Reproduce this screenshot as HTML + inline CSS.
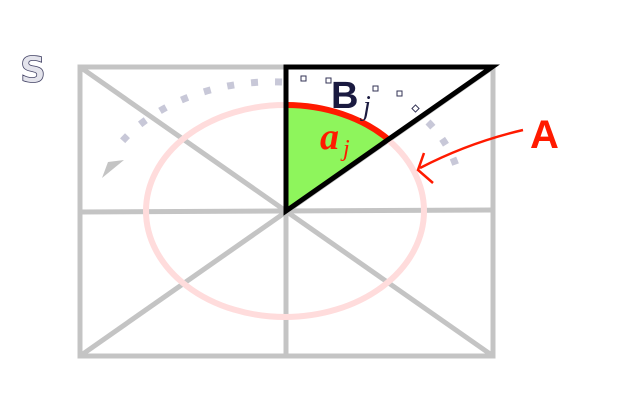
<!DOCTYPE html>
<html><head><meta charset="utf-8"><style>html,body{margin:0;padding:0;background:#fff;}svg{display:block;}</style></head>
<body>
<svg width="640" height="400" viewBox="0 0 640 400">
  <g stroke="#c4c4c4" stroke-width="5" fill="none">
    <rect x="80" y="67" width="413" height="289"/>
    <line x1="80" y1="212" x2="493" y2="210"/>
    <line x1="286" y1="67" x2="286" y2="356"/>
    <line x1="80" y1="67" x2="493" y2="356"/>
    <line x1="80" y1="356" x2="493" y2="67"/>
  </g>
  <ellipse cx="285" cy="211" rx="139" ry="106" fill="none" stroke="#ffdcdc" stroke-width="6"/>
  <path d="M 282 82 A 180 131 0 0 0 115 150" fill="none" stroke="#c8c8d8" stroke-width="7" stroke-dasharray="7 17"/>
  <path d="M 428 122 A 180 131 0 0 1 458 172" fill="none" stroke="#c8c8d8" stroke-width="7" stroke-dasharray="7 15"/>
  <polygon points="102,178 124,160 108,162" fill="#c4c4c4"/>
  <path d="M 286 211 L 286 105 A 139 106 0 0 1 388.6 139.5 Z" fill="#8ef55c"/>
  <path d="M 286 105 A 139 106 0 0 1 388.6 139.5" fill="none" stroke="#ff1a00" stroke-width="6"/>
  <polygon points="286,67 492,67 286,211" fill="none" stroke="#000" stroke-width="5" stroke-linejoin="miter"/>
  <g fill="#fff" stroke="#333355" stroke-width="1">
    <rect x="301" y="76" width="5" height="5"/><rect x="326" y="78" width="5" height="5"/>
    <rect x="373" y="86" width="5" height="5"/><rect x="397" y="91" width="5" height="5"/>
    <rect x="413" y="106" width="5" height="5" transform="rotate(45 415.5 108.5)"/>
  </g>
  <text x="331" y="108" font-family="Liberation Sans, sans-serif" font-weight="bold" font-size="38" fill="#1a1a40">B</text>
  <text x="363" y="115" font-family="Liberation Serif, serif" font-style="italic" font-size="28" fill="#1a1a40">j</text>
  <text x="320" y="149" font-family="Liberation Serif, serif" font-style="italic" font-weight="bold" font-size="38" fill="#ff1a00">a</text>
  <text x="343" y="156" font-family="Liberation Serif, serif" font-style="italic" font-size="24" fill="#ff1a00">j</text>
  <path d="M 523 130 C 480 140, 445 155, 420 168" fill="none" stroke="#ff1a00" stroke-width="2.5"/>
  <path d="M 424 153 L 418 170 L 433 183" fill="none" stroke="#ff1a00" stroke-width="2.5"/>
  <text x="530" y="148" font-family="Liberation Sans, sans-serif" font-weight="bold" font-size="40" fill="#ff1a00">A</text>
  <text x="20" y="82" font-family="DejaVu Sans, sans-serif" font-weight="bold" font-size="36" fill="#e4e4ec" stroke="#444466" stroke-width="0.8">S</text>
</svg>
</body></html>
